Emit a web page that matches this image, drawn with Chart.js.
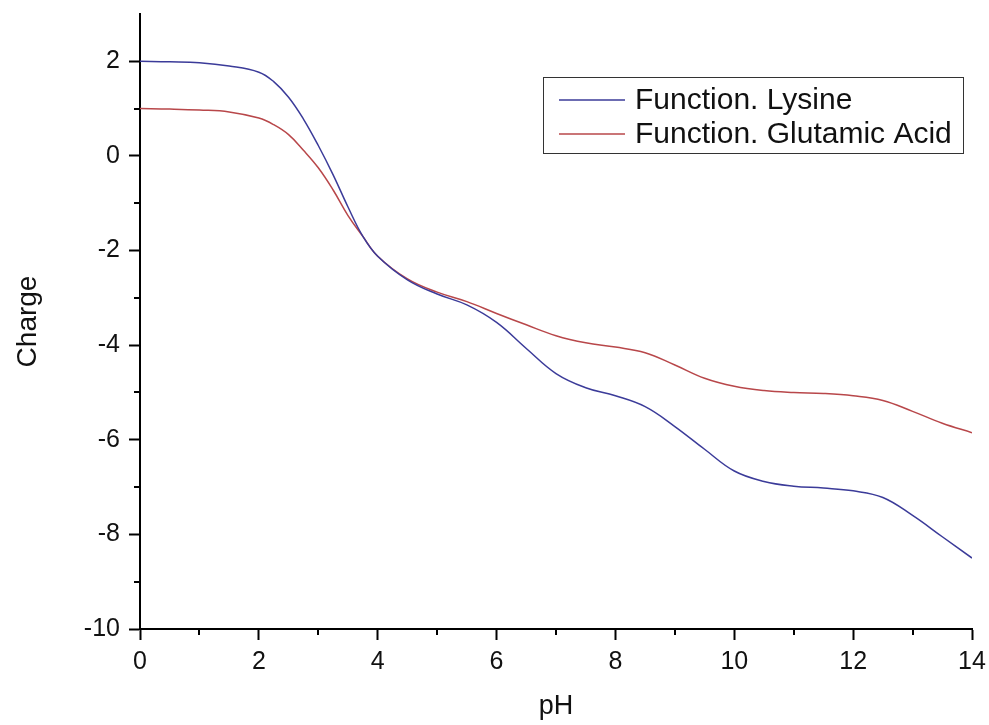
<!DOCTYPE html>
<html>
<head>
<meta charset="utf-8">
<script src="https://cdn.jsdelivr.net/npm/chart.js@4.4.1/dist/chart.umd.min.js"></script>
<style>
  html, body { margin: 0; padding: 0; background: #fff; }
  #wrap { width: 989px; height: 725px; }
</style>
</head>
<body>
<div id="wrap"><canvas id="chargeChart" width="989" height="725"></canvas></div>
<script>
// pH values (x)
const phValues = [0, 0.5, 1, 1.5, 2, 2.25, 2.5, 2.75, 3, 3.25, 3.5, 3.75, 4, 4.5, 5, 5.5, 6, 6.5, 7,
                  7.5, 8, 8.5, 9, 9.5, 10, 10.5, 11, 11.5, 12, 12.5, 13, 13.5, 14];

// net charge
const lysineCharge = [2.0, 1.99, 1.97, 1.9, 1.77, 1.57, 1.24, 0.78, 0.22, -0.4, -1.08, -1.7, -2.12,
                      -2.62, -2.92, -3.15, -3.52, -4.07, -4.6, -4.9, -5.07, -5.3, -5.72, -6.2,
                      -6.66, -6.88, -6.98, -7.02, -7.08, -7.22, -7.6, -8.05, -8.5];
const glutamicCharge = [1.0, 0.99, 0.97, 0.93, 0.8, 0.66, 0.45, 0.12, -0.25, -0.72, -1.26, -1.7, -2.12,
                        -2.6, -2.88, -3.08, -3.33, -3.57, -3.8, -3.95, -4.04, -4.16, -4.42, -4.7,
                        -4.87, -4.96, -5.0, -5.02, -5.07, -5.17, -5.4, -5.65, -5.85];

const seriesNames = ['Function. Lysine', 'Function. Glutamic Acid'];
const seriesColors = ['#3b3b99', '#b8474a'];

const FONT = '"Liberation Sans", Arial, sans-serif';

function toPoints(xs, ys) {
    return xs.map((x, i) => ({ x: x, y: ys[i] }));
}

// short minor ticks at odd values (Chart.js has no minor ticks)
const minorTicks = {
    id: 'minorTicks',
    afterDraw(chart) {
        const c = chart.ctx;
        const xs = chart.scales.x, ys = chart.scales.y;
        c.save();
        c.strokeStyle = '#000';
        c.lineWidth = 2;
        c.beginPath();
        for (let v = 1; v < 14; v += 2) {
            const px = Math.round(xs.getPixelForValue(v));
            c.moveTo(px, xs.top);
            c.lineTo(px, xs.top + 6);
        }
        for (let v = -9; v < 3; v += 2) {
            const py = Math.round(ys.getPixelForValue(v));
            c.moveTo(ys.right, py);
            c.lineTo(ys.right - 6, py);
        }
        c.stroke();
        c.restore();
    }
};

// boxed legend inside the plot, like the original
const boxLegend = {
    id: 'boxLegend',
    afterDraw(chart) {
        const c = chart.ctx;
        const left = 543, top = 77, w = 420, h = 76;
        c.save();
        c.fillStyle = '#fff';
        c.fillRect(left, top, w, h);
        c.strokeStyle = '#333';
        c.lineWidth = 1;
        c.strokeRect(left + 0.5, top + 0.5, w, h);
        c.font = '30px ' + FONT;
        c.textBaseline = 'middle';
        chart.data.datasets.forEach((ds, i) => {
            const y = top + 23 + i * 34;
            c.strokeStyle = ds.borderColor;
            c.lineWidth = 1.5;
            c.beginPath();
            c.moveTo(left + 16, y);
            c.lineTo(left + 82, y);
            c.stroke();
            c.fillStyle = '#111';
            c.fillText(ds.label, left + 92, y + 1);
        });
        c.restore();
    }
};

const ctx = document.getElementById('chargeChart').getContext('2d');

const chargeChart = new Chart(ctx, {
    type: 'line',
    data: {
        datasets: [{
            label: seriesNames[0],
            data: toPoints(phValues, lysineCharge),
            borderColor: seriesColors[0],
            borderWidth: 1.5,
            pointRadius: 0,
            fill: false,
            tension: 0.4
        }, {
            label: seriesNames[1],
            data: toPoints(phValues, glutamicCharge),
            borderColor: seriesColors[1],
            borderWidth: 1.5,
            pointRadius: 0,
            fill: false,
            tension: 0.4
        }]
    },
    options: {
        responsive: false,
        animation: false,
        devicePixelRatio: 1,
        layout: { padding: { top: 14, right: 17, left: 0, bottom: 0 } },
        plugins: {
            legend: { display: false },
            tooltip: { enabled: false }
        },
        scales: {
            x: {
                type: 'linear',
                min: 0,
                max: 14,
                afterFit: (s) => { s.height = 96; s.paddingLeft = 0; s.paddingRight = 0; },
                border: { display: true, color: '#000', width: 2 },
                grid: {
                    drawOnChartArea: false,
                    drawTicks: true,
                    tickLength: 11,
                    tickWidth: 2,
                    tickColor: '#000'
                },
                ticks: {
                    stepSize: 2,
                    padding: 7,
                    color: '#111',
                    font: { family: FONT, size: 25 },
                    maxRotation: 0
                },
                title: {
                    display: true,
                    text: 'pH',
                    color: '#111',
                    font: { family: FONT, size: 27 },
                    padding: { top: 2, bottom: 2 }
                }
            },
            y: {
                type: 'linear',
                min: -10,
                max: 3,
                afterFit: (s) => { s.width = 140; s.paddingTop = 0; s.paddingBottom = 0; },
                border: { display: true, color: '#000', width: 2 },
                grid: {
                    drawOnChartArea: false,
                    drawTicks: true,
                    tickLength: 11,
                    tickWidth: 2,
                    tickColor: (c) => (c.tick && c.tick.value === 3 ? 'transparent' : '#000')
                },
                ticks: {
                    stepSize: 2,
                    padding: 9,
                    color: '#111',
                    font: { family: FONT, size: 25 },
                    callback: (v) => (v === 3 ? '' : v)
                },
                title: {
                    display: true,
                    text: 'Charge',
                    color: '#111',
                    font: { family: FONT, size: 28 },
                    padding: { top: 11, bottom: 11 }
                }
            }
        }
    },
    plugins: [minorTicks, boxLegend]
});
</script>
</body>
</html>
